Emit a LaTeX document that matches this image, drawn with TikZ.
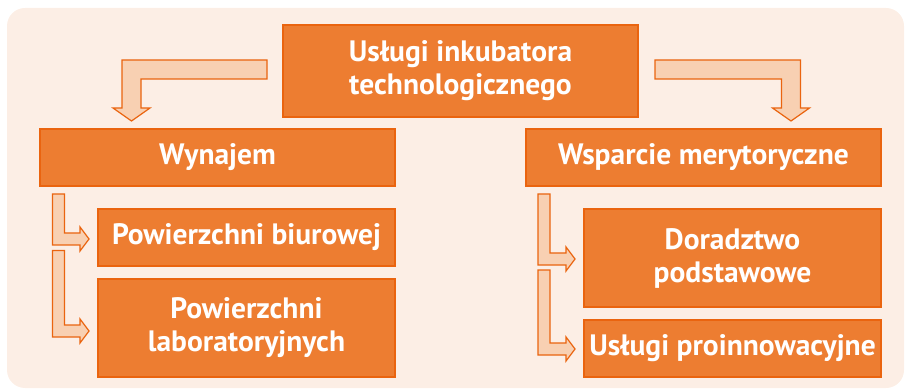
\documentclass[tikz,border=0pt]{standalone}
\usepackage{fontspec}
\setmainfont{PT Sans}
\usetikzlibrary{calc,positioning}
\definecolor{bgpeach}{HTML}{FCEEE5}
\definecolor{boxfill}{HTML}{ED7D31}
\definecolor{boxline}{HTML}{EA640F}
\definecolor{arrfill}{HTML}{F8D0B2}
\tikzset{
  box/.style={draw=boxline, line width=2pt, fill=boxfill, text=white, align=center,
    font=\fontsize{29.5}{33}\selectfont\bfseries, inner sep=2pt},
  blockarrow/.style={draw=boxline, line width=1.2pt, fill=arrfill, line join=miter}
}
% bent block arrows: horizontal then down (#3 = +1 right, -1 left)
\newcommand{\bigarrow}[3]{%
  \draw[blockarrow] let \p1=(#1), \p2=(#2) in
    (\x1,\y1+9.5pt) -- ({\x2+(#3)*9.5pt},\y1+9.5pt) -- ({\x2+(#3)*9.5pt},\y2+13pt)
    -- ({\x2+(#3)*18.5pt},\y2+13pt) -- (\x2,\y2) -- ({\x2-(#3)*18.5pt},\y2+13pt)
    -- ({\x2-(#3)*9.5pt},\y2+13pt) -- ({\x2-(#3)*9.5pt},\y1-9.5pt) -- (\x1,\y1-9.5pt) -- cycle;}
% down then right
\newcommand{\smallarrow}[2]{%
  \draw[blockarrow] let \p1=(#1), \p2=(#2) in
    (\x1-6pt,\y1) -- (\x1-6pt,\y2-6pt) -- (\x2-9pt,\y2-6pt) -- (\x2-9pt,\y2-12pt)
    -- (\x2,\y2) -- (\x2-9pt,\y2+12pt) -- (\x2-9pt,\y2+6pt) -- (\x1+6pt,\y2+6pt)
    -- (\x1+6pt,\y1) -- cycle;}

\begin{document}
\begin{tikzpicture}[x=1pt, y=-1pt]
    \useasboundingbox (0,0) rectangle (905,390);
    \fill[bgpeach, rounded corners=18pt] (7,8) rectangle (904,388);

    \node[box, minimum width=355pt, minimum height=92pt] (top) at (460.5, 71) {Usługi inkubatora\\technologicznego};
    \node[box, minimum width=355pt, minimum height=57pt] (wyn) at (217.5, 157.5) {Wynajem};
    \node[box, minimum width=355pt, minimum height=57pt] (wsp) at (703.5, 157.5) {Wsparcie merytoryczne};
    \node[box, minimum width=297pt, minimum height=57pt] (biu) at (246.5, 237.5) {Powierzchni biurowej};
    \node[box, minimum width=297pt, minimum height=98pt] (lab) at (246.5, 328) {Powierzchni\\laboratoryjnych};
    \node[box, minimum width=297pt, minimum height=98pt] (dor) at (732.5, 258) {Doradztwo\\podstawowe};
    \node[box, minimum width=297pt, minimum height=57pt] (pro) at (732.5, 348.5) {Usługi proinnowacyjne};

    \coordinate (la) at ([xshift=-15pt, yshift=1.5pt]top.west);
    \coordinate (lt) at ([xshift=92.5pt, yshift=7pt]wyn.north west);
    \coordinate (ra) at ([xshift=16pt, yshift=1.5pt]top.east);
    \coordinate (rt) at ([xshift=-91pt, yshift=7pt]wsp.north east);
    \bigarrow{la}{lt}{-1}
    \bigarrow{ra}{rt}{1}

    \coordinate (w1) at ([xshift=19.5pt, yshift=-7pt]wyn.south west);
    \coordinate (w2) at ([yshift=-13pt]biu.west -| w1);
    \coordinate (s1) at ([xshift=19pt, yshift=-7pt]wsp.south west);
    \coordinate (s2) at ([yshift=-12pt]dor.west -| s1);
    \smallarrow{w1}{[xshift=-8pt, yshift=-1.5pt]biu.west}
    \smallarrow{w2}{[xshift=-8pt, yshift=-3pt]lab.west}
    \smallarrow{s1}{[xshift=-8pt, yshift=-1pt]dor.west}
    \smallarrow{s2}{[xshift=-8pt, yshift=-0.5pt]pro.west}
\end{tikzpicture}
\end{document}
